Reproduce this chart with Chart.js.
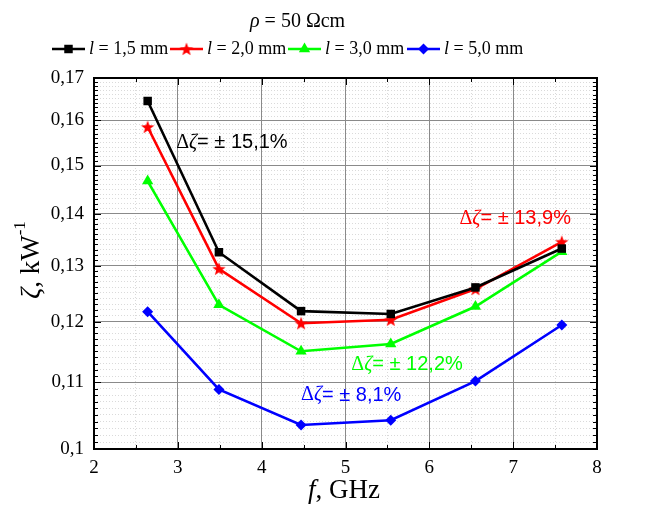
<!DOCTYPE html>
<html>
<head>
<meta charset="utf-8">
<script src="https://cdn.jsdelivr.net/npm/chart.js@4/dist/chart.umd.min.js"></script>
<style>
  html, body { margin: 0; padding: 0; background: #fff; }
  #wrap { width: 645px; height: 507px; }
</style>
</head>
<body>
<div id="wrap"><canvas id="zetaChart" width="645" height="507"></canvas></div>
<script>
// frequencies, GHz
const freq = [2.64, 3.49, 4.47, 5.54, 6.55, 7.58];
// zeta, kW^-1 for each l
const zeta15 = [0.1645, 0.1325, 0.1218, 0.1213, 0.1260, 0.1332];
const zeta20 = [0.1585, 0.1294, 0.1197, 0.1203, 0.1257, 0.1345];
const zeta30 = [0.1467, 0.1229, 0.1150, 0.1162, 0.1226, 0.1326];
const zeta50 = [0.1217, 0.1089, 0.1035, 0.1042, 0.1102, 0.1194];
const seriesLabels = ['1,5 mm', '2,0 mm', '3,0 mm', '5,0 mm'];
const seriesColors = ['#000000', '#ff0000', '#00ff00', '#0000ff'];
// major y ticks (log axis)
const yMajor = [0.10, 0.11, 0.12, 0.13, 0.14, 0.15, 0.16, 0.17];
// delta labels: text, x, y (data coords), colour
const noteText = ['= ± 15,1%', '= ± 13,9%', '= ± 12,2%', '= ± 8,1%'];
const noteX = [2.98, 6.36, 5.07, 4.47];
const noteY = [0.155, 0.139, 0.1128, 0.108];

// 5-point star marker
function makeStar(color, r) {
  const c = document.createElement('canvas');
  c.width = c.height = r * 2 + 2;
  const g = c.getContext('2d');
  g.fillStyle = color;
  g.beginPath();
  for (let i = 0; i < 10; i++) {
    const rad = i % 2 ? r * 0.42 : r;
    const a = -Math.PI / 2 + i * Math.PI / 5;
    g.lineTo(r + 1 + rad * Math.cos(a), r + 1.6 + rad * Math.sin(a));
  }
  g.closePath();
  g.fill();
  return c;
}
const starImg = makeStar('#ff0000', 7);

const pointStyles = ['rect', starImg, 'triangle', 'rectRot'];
const pointRadius = [6, 7, 6.5, 5.5];
const allSeries = [zeta15, zeta20, zeta30, zeta50];

const datasets = allSeries.map((s, i) => ({
  label: 'l = ' + seriesLabels[i],
  data: freq.map((f, j) => ({ x: f, y: s[j] })),
  borderColor: seriesColors[i],
  backgroundColor: seriesColors[i],
  borderWidth: 2.6,
  pointStyle: pointStyles[i],
  pointRadius: pointRadius[i],
  pointBorderWidth: 0,
  tension: 0
}));

const isMajorY = v => Math.round(v * 1000) % 10 === 0;
const isMajorX = v => Math.abs(v - Math.round(v)) < 1e-6;

// draws frame, inward ticks, title, legend, axis titles, notes
const decoPlugin = {
  id: 'deco',
  afterDatasetsDraw(chart) {
    const ctx = chart.ctx;
    const a = chart.chartArea;
    const xs = chart.scales.x, ys = chart.scales.y;
    ctx.save();
    ctx.strokeStyle = '#000';
    ctx.lineWidth = 1;
    ys.ticks.forEach(t => {
      const py = Math.round(ys.getPixelForValue(t.value)) + 0.5;
      const len = isMajorY(t.value) ? 7 : 4;
      ctx.beginPath();
      ctx.moveTo(a.left, py); ctx.lineTo(a.left + len, py);
      ctx.moveTo(a.right, py); ctx.lineTo(a.right - len, py);
      ctx.stroke();
    });
    xs.ticks.forEach(t => {
      const px = Math.round(xs.getPixelForValue(t.value)) + 0.5;
      const len = isMajorX(t.value) ? 7 : 4;
      ctx.beginPath();
      ctx.moveTo(px, a.bottom); ctx.lineTo(px, a.bottom - len);
      ctx.moveTo(px, a.top); ctx.lineTo(px, a.top + len);
      ctx.stroke();
    });
    ctx.lineWidth = 2;
    ctx.strokeRect(a.left, a.top, a.right - a.left, a.bottom - a.top);

    // notes
    ctx.textBaseline = 'middle';
    noteText.forEach((txt, i) => {
      const px = xs.getPixelForValue(noteX[i]);
      const py = ys.getPixelForValue(noteY[i]);
      ctx.fillStyle = seriesColors[i];
      ctx.font = '20px "Liberation Serif"';
      ctx.fillText('Δ', px, py);
      let w = ctx.measureText('Δ').width;
      ctx.font = 'italic 20px "Liberation Serif"';
      ctx.fillText('ζ', px + w, py);
      w += ctx.measureText('ζ').width;
      ctx.font = '20px "Liberation Sans"';
      ctx.fillText(txt, px + w, py);
    });
    ctx.restore();
  },
  afterDraw(chart) {
    const ctx = chart.ctx;
    ctx.save();
    ctx.fillStyle = '#000';
    ctx.textBaseline = 'middle';
    // title
    ctx.font = 'italic 20px "Liberation Serif"';
    let tx = 250;
    ctx.fillText('ρ', tx, 22);
    tx += ctx.measureText('ρ').width;
    ctx.font = '20px "Liberation Serif"';
    ctx.fillText(' = 50 Ωcm', tx, 22);

    // legend
    const startX = [52, 170, 288, 407];
    const ly = 49;
    datasets.forEach((d, i) => {
      const x0 = startX[i];
      ctx.strokeStyle = seriesColors[i];
      ctx.fillStyle = seriesColors[i];
      ctx.lineWidth = 2.6;
      ctx.beginPath();
      ctx.moveTo(x0, ly); ctx.lineTo(x0 + 33, ly);
      ctx.stroke();
      const o = { pointStyle: pointStyles[i], radius: pointRadius[i], borderWidth: 0, rotation: 0 };
      Chart.helpers.drawPoint(ctx, o, x0 + 16.5, ly);
      ctx.fillStyle = '#000';
      ctx.font = 'italic 18px "Liberation Serif"';
      let x = x0 + 37;
      ctx.fillText('l', x, ly);
      x += ctx.measureText('l').width;
      ctx.font = '18px "Liberation Serif"';
      ctx.fillText(' = ' + seriesLabels[i], x, ly);
    });

    // x title
    ctx.font = 'italic 27px "Liberation Serif"';
    const xw1 = ctx.measureText('f').width;
    ctx.font = '27px "Liberation Serif"';
    const xw2 = ctx.measureText(', GHz').width;
    const xx = 344 - (xw1 + xw2) / 2;
    ctx.font = 'italic 27px "Liberation Serif"';
    ctx.fillText('f', xx, 491);
    ctx.font = '27px "Liberation Serif"';
    ctx.fillText(', GHz', xx + xw1, 491);

    // y title
    ctx.translate(32, 260);
    ctx.rotate(-Math.PI / 2);
    ctx.font = 'italic 27px "Liberation Serif"';
    const w1 = ctx.measureText('ζ').width;
    ctx.font = '27px "Liberation Serif"';
    const w2 = ctx.measureText(', kW').width;
    ctx.font = '17px "Liberation Serif"';
    const w3 = ctx.measureText('-1').width;
    const yx = -(w1 + w2 + w3) / 2;
    ctx.font = 'italic 27px "Liberation Serif"';
    ctx.fillText('ζ', yx, 0);
    ctx.font = '27px "Liberation Serif"';
    ctx.fillText(', kW', yx + w1, 0);
    ctx.font = '17px "Liberation Serif"';
    ctx.fillText('-1', yx + w1 + w2, -11);
    ctx.restore();
  }
};

new Chart(document.getElementById('zetaChart'), {
  type: 'line',
  data: { datasets },
  options: {
    responsive: false,
    animation: false,
    layout: { padding: { top: 78, right: 48, left: 0, bottom: 0 } },
    plugins: { legend: { display: false }, title: { display: false }, tooltip: { enabled: false } },
    scales: {
      x: {
        type: 'linear',
        min: 2, max: 8,
        afterFit: s => { s.height = 58; },
        ticks: {
          stepSize: 0.5,
          autoSkip: false,
          maxRotation: 0,
          padding: 8,
          color: '#000',
          font: { family: 'Liberation Serif', size: 19 },
          callback: v => isMajorX(v) ? String(Math.round(v)) : ''
        },
        grid: {
          drawTicks: false,
          color: c => c.tick && isMajorX(c.tick.value) ? '#8a8a8a' : '#dadada',
          lineWidth: 1
        },
        border: { display: false, dash: c => c.tick && !isMajorX(c.tick.value) ? [1, 2] : [] }
      },
      y: {
        type: 'logarithmic',
        min: 0.1, max: 0.17,
        afterFit: s => { s.width = 94; },
        afterBuildTicks: s => {
          const t = [];
          for (let i = 100; i <= 170; i++) t.push({ value: i / 1000 });
          s.ticks = t;
        },
        ticks: {
          autoSkip: false,
          padding: 10,
          color: '#000',
          font: { family: 'Liberation Serif', size: 19 },
          callback: v => yMajor.some(m => Math.abs(m - v) < 1e-6)
            ? String(Math.round(v * 100) / 100).replace('.', ',') : ''
        },
        grid: {
          drawTicks: false,
          color: c => c.tick && isMajorY(c.tick.value) ? '#8a8a8a' : '#dadada',
          lineWidth: 1
        },
        border: { display: false, dash: c => c.tick && !isMajorY(c.tick.value) ? [1, 2] : [] }
      }
    }
  },
  plugins: [decoPlugin]
});
</script>
</body>
</html>
